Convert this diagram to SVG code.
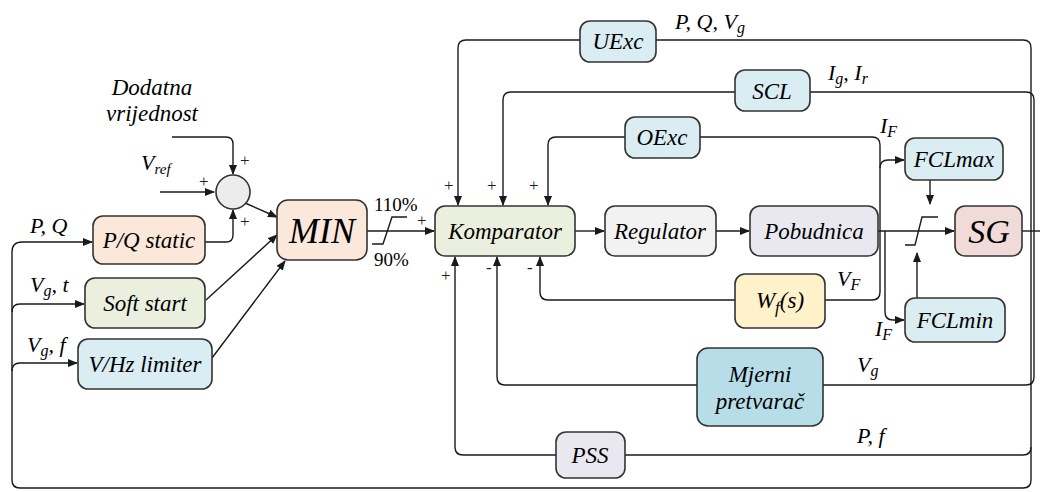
<svg xmlns="http://www.w3.org/2000/svg" width="1040" height="492" viewBox="0 0 1040 492" font-family="Liberation Serif, Times New Roman, serif">
<defs>
<marker id="ah" markerWidth="10" markerHeight="8" refX="9" refY="4" orient="auto" markerUnits="userSpaceOnUse"><path d="M0,0 L10,4 L0,8 z" fill="#1a1a1a"/></marker>
<style>
.box{stroke:#333;stroke-width:1.6}
.t{font-style:italic;font-size:23px;fill:#000;text-anchor:middle}
.big{font-size:36px}
.lab{font-style:italic;font-size:22px;fill:#000}
.dv{font-size:23px;text-anchor:middle}
.sg{font-size:17px;fill:#222}
.pc{font-size:19px;fill:#000}
.ln{fill:none;stroke:#1a1a1a;stroke-width:1.4}
.blue{fill:#daedf3}
</style>
</defs>
<rect width="1040" height="492" fill="#fff"/>
<g id="connectors">
<path class="ln" d="M160,192 L214,192" marker-end="url(#ah)"/>
<path class="ln" d="M172,137 L226,137 Q233,137 233,144 L233,174" marker-end="url(#ah)"/>
<path class="ln" d="M205,242 L226,242 Q233,242 233,235 L233,210" marker-end="url(#ah)"/>
<path class="ln" d="M245,203 L277,217" marker-end="url(#ah)"/>
<path class="ln" d="M206,300 L277,235" marker-end="url(#ah)"/>
<path class="ln" d="M212,358 L285,261" marker-end="url(#ah)"/>
<path class="ln" d="M367,231 L434,231" marker-end="url(#ah)"/>
<path class="ln" d="M372,244 L383,244 L392,217 L407,217"/>
<path class="ln" d="M12,252 Q12,242 22,242 L92,242" marker-end="url(#ah)"/>
<path class="ln" d="M12,312 Q12,304 20,304 L84,304" marker-end="url(#ah)"/>
<path class="ln" d="M12,371 Q12,363 20,363 L77,363" marker-end="url(#ah)"/>
<path class="ln" d="M12,252 L12,480 Q12,488 20,488 L1023,488 Q1031,488 1031,480 L1031,48 Q1031,40 1023,40 L656,40"/>
<path class="ln" d="M580,40 L466,40 Q458,40 458,48 L458,205" marker-end="url(#ah)"/>
<path class="ln" d="M810,92 L1026,92 Q1034,92 1034,100 L1034,377 Q1034,385 1026,385 L823,385"/>
<path class="ln" d="M735,92 L511,92 Q503,92 503,100 L503,205" marker-end="url(#ah)"/>
<path class="ln" d="M700,137 L872,137 Q880,137 880,145 L880,292 Q880,300 872,300 L825,300"/>
<path class="ln" d="M625,137 L556,137 Q548,137 548,145 L548,205" marker-end="url(#ah)"/>
<path class="ln" d="M880,168 Q880,160 888,160 L904,160" marker-end="url(#ah)"/>
<path class="ln" d="M885,231 L885,312 Q885,320 893,320 L904,320" marker-end="url(#ah)"/>
<path class="ln" d="M735,300 L548,300 Q540,300 540,292 L540,257" marker-end="url(#ah)"/>
<path class="ln" d="M697,385 L505,385 Q497,385 497,377 L497,257" marker-end="url(#ah)"/>
<path class="ln" d="M556,455 L463,455 Q455,455 455,447 L455,257" marker-end="url(#ah)"/>
<path class="ln" d="M625,455 L1023,455 Q1031,455 1031,447"/>
<path class="ln" d="M575,231 L604,231" marker-end="url(#ah)"/>
<path class="ln" d="M716,231 L749,231" marker-end="url(#ah)"/>
<path class="ln" d="M878,231 L954,231" marker-end="url(#ah)"/>
<path class="ln" d="M1022,231 L1040,231"/>
<path class="ln" d="M930,180 L930,204" marker-end="url(#ah)"/>
<path class="ln" d="M917,298 L917,253" marker-end="url(#ah)"/>
<path class="ln" d="M905,245 L915,245 L922,217 L938,217"/>
</g>
<g id="labels">
<text class="lab dv" x="152" y="95">Dodatna</text>
<text class="lab dv" x="152" y="121">vrijednost</text>
<text class="lab" x="141" y="170">V<tspan font-size="15" dy="4">ref</tspan></text>
<text class="sg" x="240" y="166">+</text>
<text class="sg" x="199" y="187">+</text>
<text class="sg" x="240" y="227">+</text>
<text class="lab" x="30" y="233">P, Q</text>
<text class="lab" x="30" y="292">V<tspan font-size="16" dy="4">g</tspan><tspan dy="-4">, t</tspan></text>
<text class="lab" x="27" y="352">V<tspan font-size="16" dy="4">g</tspan><tspan dy="-4">, f</tspan></text>
<text class="pc" x="374" y="211">110%</text>
<text class="pc" x="374" y="266">90%</text>
<text class="sg" x="417" y="226">+</text>
<text class="sg" x="444" y="191">+</text>
<text class="sg" x="487" y="191">+</text>
<text class="sg" x="529" y="191">+</text>
<text class="sg" x="441" y="281">+</text>
<text class="sg" x="486" y="273">-</text>
<text class="sg" x="527" y="273">-</text>
<text class="lab" x="675" y="29">P, Q, V<tspan font-size="16" dy="4">g</tspan></text>
<text class="lab" x="828" y="80">I<tspan font-size="16" dy="4">g</tspan><tspan dy="-4">, I</tspan><tspan font-size="16" dy="4">r</tspan></text>
<text class="lab" x="880" y="133">I<tspan font-size="16" dy="4">F</tspan></text>
<text class="lab" x="837" y="286">V<tspan font-size="16" dy="4">F</tspan></text>
<text class="lab" x="875" y="336">I<tspan font-size="16" dy="4">F</tspan></text>
<text class="lab" x="857" y="372">V<tspan font-size="16" dy="4">g</tspan></text>
<text class="lab" x="857" y="443">P, f</text>
</g>
<g id="sum"><circle cx="233" cy="192" r="17" fill="#ececec" stroke="#333" stroke-width="1.6"/></g>
<g id="pqstatic"><rect class="box" x="93" y="216" width="112" height="48" rx="10" fill="#fce8da"/><text class="t" x="149" y="248">P/Q static</text></g>
<g id="softstart"><rect class="box" x="85" y="278" width="120" height="50" rx="10" fill="#ebf0de"/><text class="t" x="145" y="311">Soft start</text></g>
<g id="vhz"><rect class="box blue" x="78" y="339" width="134" height="50" rx="10"/><text class="t" x="145" y="372">V/Hz limiter</text></g>
<g id="min"><rect class="box" x="277" y="200" width="90" height="60" rx="11" fill="#fce8da"/><text class="t big" x="322" y="243">MIN</text></g>
<g id="komparator"><rect class="box" x="435" y="206" width="140" height="50" rx="10" fill="#ebf0de"/><text class="t" x="505" y="239">Komparator</text></g>
<g id="regulator"><rect class="box" x="605" y="206" width="111" height="50" rx="10" fill="#f2f2f2"/><text class="t" x="660" y="239">Regulator</text></g>
<g id="pobudnica"><rect class="box" x="750" y="206" width="128" height="50" rx="10" fill="#e9e8f0"/><text class="t" x="814" y="239">Pobudnica</text></g>
<g id="sg"><rect class="box" x="955" y="206" width="67" height="50" rx="10" fill="#f1dbd8"/><text class="t big" x="989" y="243" style="font-size:34px">SG</text></g>
<g id="uexc"><rect class="box blue" x="580" y="21" width="76" height="41" rx="10"/><text class="t" x="618" y="49">UExc</text></g>
<g id="scl"><rect class="box blue" x="735" y="70" width="75" height="41" rx="10"/><text class="t" x="772" y="99">SCL</text></g>
<g id="oexc"><rect class="box blue" x="625" y="117" width="75" height="41" rx="10"/><text class="t" x="662" y="145">OExc</text></g>
<g id="fclmax"><rect class="box blue" x="905" y="138" width="98" height="42" rx="10"/><text class="t" x="954" y="167">FCLmax</text></g>
<g id="fclmin"><rect class="box blue" x="905" y="298" width="100" height="44" rx="10"/><text class="t" x="955" y="328">FCLmin</text></g>
<g id="wf"><rect class="box" x="735" y="274" width="90" height="54" rx="10" fill="#fff1c9"/><text class="t" x="780" y="308">W<tspan font-size="17" dy="5">f</tspan><tspan dy="-5">(s)</tspan></text></g>
<g id="mjerni"><rect class="box" x="697" y="348" width="126" height="78" rx="11" fill="#b6dde8"/><text class="t" x="760" y="382">Mjerni</text><text class="t" x="760" y="409">pretvarač</text></g>
<g id="pss"><rect class="box" x="556" y="432" width="69" height="46" rx="10" fill="#e9e8f0"/><text class="t" x="590" y="463">PSS</text></g>
</svg>
